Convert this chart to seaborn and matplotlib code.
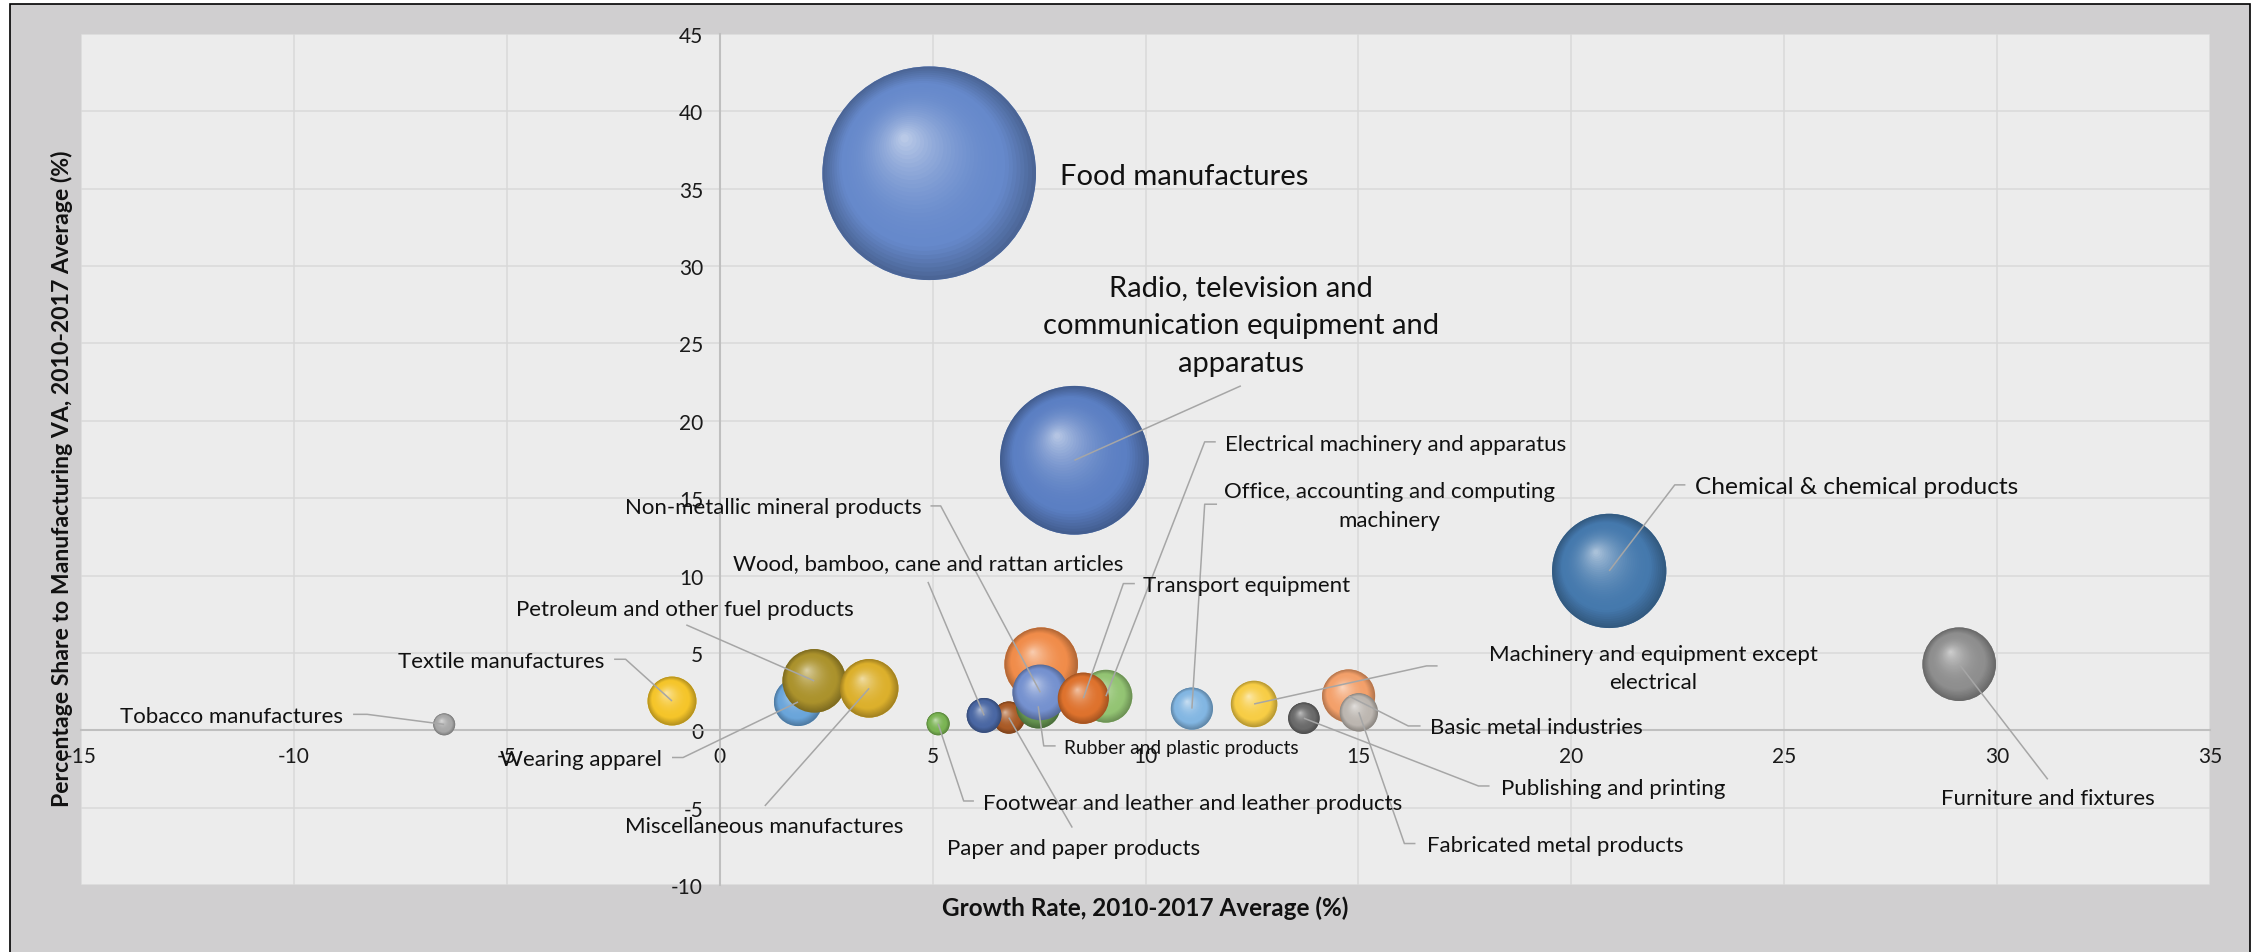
import numpy as np
import pandas as pd
import matplotlib
matplotlib.use("Agg")
import matplotlib.pyplot as plt
import matplotlib.colors as mcolors
from matplotlib.patches import Rectangle
import seaborn as sns

# ---- data (drawing order; later sectors sit on top) ----
sectors = [
    "Wearing apparel",
    "Beverages",
    "Tobacco manufactures",
    "Textile manufactures",
    "Food manufactures",
    "Footwear and leather and leather products",
    "Chemical & chemical products",
    "Paper and paper products",
    "Publishing and printing",
    "Petroleum and other fuel products",
    "Wood, bamboo, cane and rattan articles",
    "Rubber and plastic products",
    "Office, accounting and computing\nmachinery",
    "Basic metal industries",
    "Fabricated metal products",
    "Machinery and equipment except\nelectrical",
    "Non-metallic mineral products",
    "Electrical machinery and apparatus",
    "Radio, television and\ncommunication equipment and\napparatus",
    "Transport equipment",
    "Furniture and fixtures",
    "Miscellaneous manufactures",
]
growth = [1.84, 7.55, -6.47, -1.12, 4.92, 5.13, 20.89, 6.79, 13.72, 2.22, 6.21,
          7.48, 11.09, 14.77, 15.01, 12.55, 7.53, 9.07, 8.33, 8.54, 29.11, 3.51]
share = [1.83, 4.27, 0.38, 1.89, 36.0, 0.42, 10.3, 0.82, 0.78, 3.19, 0.96,
         1.55, 1.40, 2.22, 1.16, 1.70, 2.45, 2.20, 17.45, 2.07, 4.27, 2.71]
colors = ["#6aa5da", "#f08c4a", "#a8a8a8", "#f5c52a", "#6689cb", "#7ab453",
          "#4579ad", "#a95a26", "#6a6a6a", "#ab922c", "#4a67a3", "#659450",
          "#82b6e2", "#f3a06a", "#bcb6b0", "#f7cd45", "#7591cf", "#93c473",
          "#5b7fc3", "#de722d", "#8e8e8e", "#dcb02c"]
unlabeled = {"Beverages"}

x_ticks = list(range(-15, 36, 5))
y_ticks = list(range(-10, 46, 5))

# ---- label layout: position, alignment, font size, leader path start ----
LBL = 16
layout = {
    "Tobacco manufactures": dict(xy=(-8.85, 0.92), ha="right", fs=LBL, path=[(-8.61, 1.03), (-8.28, 1.03)]),
    "Textile manufactures": dict(xy=(-2.70, 4.48), ha="right", fs=LBL, path=[(-2.48, 4.59), (-2.21, 4.59)]),
    "Wearing apparel": dict(xy=(-1.36, -1.83), ha="right", fs=LBL, path=[(-1.12, -1.76), (-0.86, -1.76)]),
    "Petroleum and other fuel products": dict(xy=(-0.82, 7.87), ha="center", fs=LBL, path=[(-0.785, 6.81)]),
    "Miscellaneous manufactures": dict(xy=(1.05, -6.19), ha="center", fs=LBL, path=[(1.06, -4.89)]),
    "Footwear and leather and leather products": dict(xy=(6.18, -4.67), ha="left", fs=LBL, path=[(5.97, -4.57), (5.73, -4.57)]),
    "Paper and paper products": dict(xy=(8.31, -7.58), ha="center", fs=LBL, path=[(8.28, -6.29)]),
    "Wood, bamboo, cane and rattan articles": dict(xy=(4.89, 10.8), ha="center", fs=LBL, path=[(4.89, 9.59)]),
    "Non-metallic mineral products": dict(xy=(4.74, 14.4), ha="right", fs=LBL, path=[(4.95, 14.5), (5.19, 14.5)]),
    "Rubber and plastic products": dict(xy=(8.09, -1.12), ha="left", fs=13.8, path=[(7.89, -1.01), (7.61, -1.01)]),
    "Transport equipment": dict(xy=(9.94, 9.37), ha="left", fs=LBL, path=[(9.75, 9.48), (9.48, 9.48)]),
    "Electrical machinery and apparatus": dict(xy=(11.86, 18.49), ha="left", fs=LBL, path=[(11.65, 18.64), (11.39, 18.64)]),
    "Office, accounting and computing\nmachinery": dict(xy=(15.72, 14.53), ha="center", fs=LBL, path=[(11.68, 14.61), (11.39, 14.61)]),
    "Machinery and equipment except\nelectrical": dict(xy=(21.93, 4.03), ha="center", fs=LBL, path=[(16.86, 4.16), (16.60, 4.16)]),
    "Basic metal industries": dict(xy=(16.67, 0.21), ha="left", fs=LBL, path=[(16.46, 0.28), (16.17, 0.28)]),
    "Publishing and printing": dict(xy=(18.34, -3.70), ha="left", fs=LBL, path=[(18.08, -3.60), (17.82, -3.60)]),
    "Fabricated metal products": dict(xy=(16.60, -7.43), ha="left", fs=LBL, path=[(16.34, -7.32), (16.08, -7.32)]),
    "Chemical & chemical products": dict(xy=(22.91, 15.75), ha="left", fs=17.6, path=[(22.68, 15.86), (22.43, 15.86)]),
    "Furniture and fixtures": dict(xy=(31.19, -4.40), ha="center", fs=LBL, path=[(31.19, -3.17)]),
    "Radio, television and\ncommunication equipment and\napparatus": dict(xy=(12.25, 26.19), ha="center", fs=21, path=[(12.24, 22.26)]),
    "Food manufactures": dict(xy=(7.99, 35.83), ha="left", fs=21, path=None),
}

# ---- figure ----
sns.set_theme(style="white")
plt.rcParams["font.family"] = ["Lato", "DejaVu Sans"]

DPI = 100
W, H = 2259, 953
fig = plt.figure(figsize=(W / DPI, H / DPI), dpi=DPI, facecolor="white")
frame = Rectangle((10 / W, -0.05), 2240 / W, 1.05 - 5 / H,
                  transform=fig.transFigure, facecolor="#d0cfd0",
                  edgecolor="#000000", lw=1.2, zorder=-5)
fig.patches.append(frame)

ax = fig.add_axes([81 / W, (H - 886) / H, (2210 - 81) / W, (886 - 35) / H])
ax.set_zorder(1)
ax.set_facecolor("#ececec")
ax.set_xlim(-15, 35)
ax.set_ylim(-10, 45)
ax.set_xticks(x_ticks)
ax.set_yticks(y_ticks)
ax.set_xticklabels([str(v) for v in x_ticks])
ax.set_yticklabels([str(v) for v in y_ticks])
ax.grid(True, color="#d9d9d9", lw=1.1)
ax.set_axisbelow(True)
for side in ("top", "right"):
    ax.spines[side].set_visible(False)
for side in ("left", "bottom"):
    ax.spines[side].set_position(("data", 0))
    ax.spines[side].set_color("#bfbfbf")
    ax.spines[side].set_linewidth(1.5)
    ax.spines[side].set_zorder(2)
ax.tick_params(axis="x", length=0, pad=11, labelsize=15, labelcolor="#1a1a1a")
ax.tick_params(axis="y", length=0, pad=12, labelsize=15, labelcolor="#1a1a1a")

# ---- bubbles: area proportional to share ----
df = pd.DataFrame({"sector": sectors, "growth": growth, "share": share})
K_PX = 17.8  # radius in pixels of a bubble whose share is 1 %
max_area = (2 * K_PX * np.sqrt(max(share)) * 72 / DPI) ** 2
sns.scatterplot(data=df, x="growth", y="share", hue="sector", palette=colors,
                size="share", sizes=(0, max_area), size_norm=(0, max(share)),
                linewidth=0, legend=False, ax=ax, zorder=3)
ax.set_xlabel("")
ax.set_ylabel("")


def shade(c, t):
    """Colour of a shading ring: darker rim, base tone, bright highlight."""
    rgb = np.array(mcolors.to_rgb(c))
    if t < 0.22:
        lo = rgb * 0.74
        return tuple(lo + (rgb - lo) * (t / 0.22))
    u = (t - 0.22) / 0.78
    return tuple(rgb + (1 - rgb) * 0.6 * u ** 2.0)


# pixels per data unit, for the sphere shading offsets
p0 = ax.transData.transform((0, 0))
p1 = ax.transData.transform((1, 1))
px_x, px_y = p1[0] - p0[0], p1[1] - p0[1]

fracs = np.linspace(1.0, 0.04, 34)
for i, (gx, sh, col) in enumerate(zip(growth, share, colors)):
    r = K_PX * np.sqrt(sh)
    t = 1 - fracs
    xs = gx + t * (-0.24 * r) / px_x
    ys = sh + t * (0.34 * r) / px_y
    sz = (2 * r * fracs * 72 / DPI) ** 2
    ax.scatter(xs, ys, s=sz, c=[shade(col, v) for v in t], linewidths=0,
               zorder=4 + i * 0.01)

# ---- data labels with leader lines ----
for name, gx, sh in zip(sectors, growth, share):
    if name in unlabeled:
        continue
    lay = layout[name]
    if lay["path"]:
        pts = lay["path"] + [(gx, sh)]
        ax.plot([p[0] for p in pts], [p[1] for p in pts], color="#a6a6a6",
                lw=1.1, zorder=10, solid_capstyle="butt")
    ax.text(lay["xy"][0], lay["xy"][1], name, ha=lay["ha"], va="center",
            fontsize=lay["fs"], color="#111111", zorder=11,
            linespacing=1.55, multialignment="center")

# ---- axis titles ----
fig.text(1145.5 / W, 1 - 908 / H, "Growth Rate, 2010-2017 Average (%)",
         ha="center", va="center", fontsize=17.5, fontweight="bold", color="#111111")
fig.text(62 / W, 1 - 479 / H,
         "Percentage Share to Manufacturing VA, 2010-2017 Average (%)",
         ha="center", va="center", rotation=90, fontsize=16.6,
         fontweight="bold", color="#111111")

fig.savefig("out.png", dpi=DPI, facecolor="white")
